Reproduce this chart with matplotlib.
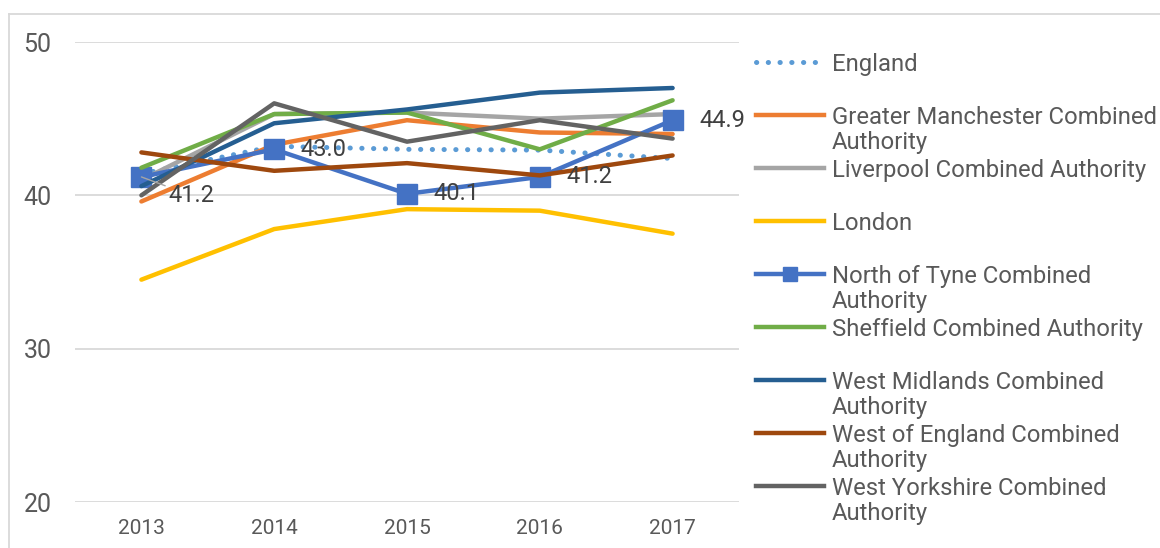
import matplotlib
matplotlib.use("Agg")
import matplotlib.pyplot as plt
from matplotlib.lines import Line2D

plt.rcParams['font.family'] = ['Roboto', 'DejaVu Sans']

years = ['2013', '2014', '2015', '2016', '2017']

england = [41.4, 43.2, 43.0, 42.95, 42.4]
greater_manchester = [39.6, 43.3, 44.9, 44.1, 44.0]
liverpool = [41.0, 45.3, 45.4, 45.0, 45.3]
london = [34.5, 37.8, 39.1, 39.0, 37.5]
north_of_tyne = [41.2, 43.0, 40.1, 41.2, 44.9]
sheffield = [41.8, 45.3, 45.4, 43.0, 46.2]
west_midlands = [40.6, 44.7, 45.6, 46.7, 47.0]
west_of_england = [42.8, 41.6, 42.1, 41.3, 42.6]
west_yorkshire = [40.0, 46.0, 43.5, 44.9, 43.7]

names = ['England',
         'Greater Manchester Combined\nAuthority',
         'Liverpool Combined Authority',
         'London',
         'North of Tyne Combined\nAuthority',
         'Sheffield Combined Authority',
         'West Midlands Combined\nAuthority',
         'West of England Combined\nAuthority',
         'West Yorkshire Combined\nAuthority']
series = [england, greater_manchester, liverpool, london, north_of_tyne,
          sheffield, west_midlands, west_of_england, west_yorkshire]
colors = ['#5b9bd5', '#ed7d31', '#a5a5a5', '#ffc000', '#4472c4',
          '#70ad47', '#255e91', '#9e480e', '#636363']

txt = '#595959'
fig = plt.figure(figsize=(11.6, 5.48), dpi=100)
ax = fig.add_axes([75 / 1160, 46 / 548, 664 / 1160, 460 / 548])

x = list(range(len(years)))
for i, (vals, c) in enumerate(zip(series, colors)):
    if i == 0:
        ax.plot(x, vals, color=c, lw=3.6, linestyle=(0, (0.05, 2.3)),
                dash_capstyle='round', zorder=3)
    elif i == 4:
        ax.plot(x, vals, color=c, lw=3.2, marker='s', markersize=14, zorder=3 + i)
    else:
        ax.plot(x, vals, color=c, lw=3.2, solid_capstyle='round', zorder=3 + i)

# data labels for North of Tyne
for i, v in enumerate(north_of_tyne):
    if i == 0:
        ax.annotate(f'{v:.1f}', xy=(i, v), xytext=(i + 0.2, v - 1.2),
                    fontsize=17, color='#404040', va='center', ha='left',
                    arrowprops=dict(arrowstyle='-', color='#a5a5a5', lw=1,
                                    shrinkA=0, shrinkB=0), zorder=20)
    else:
        ax.text(i + 0.2, v, f'{v:.1f}', fontsize=17, color='#404040',
                va='center', ha='left', zorder=20)

ax.set_xlim(-0.5, 4.5)
ax.set_ylim(20, 50)
ax.set_yticks([20, 30, 40, 50])
ax.set_xticks(x)
ax.set_xticklabels(years)
ax.grid(axis='y', color='#d9d9d9', lw=1.3)
ax.set_axisbelow(True)
for s in ax.spines.values():
    s.set_visible(False)
ax.tick_params(axis='y', length=0, labelsize=18, labelcolor=txt, pad=17)
ax.tick_params(axis='x', length=0, labelsize=15, labelcolor=txt, pad=12)

# legend drawn by hand so the handle sits on the first text line
y0 = 62
for k, (name, c) in enumerate(zip(names, colors)):
    yy = 1 - (y0 + 53 * k) / 548
    if k == 0:
        ln = Line2D([756 / 1160, 824 / 1160], [yy, yy], transform=fig.transFigure,
                    color=c, lw=3.6, linestyle=(0, (0.05, 2.3)), dash_capstyle='round')
    elif k == 4:
        ln = Line2D([756 / 1160, 790 / 1160, 824 / 1160], [yy, yy, yy],
                    transform=fig.transFigure, color=c, lw=3.2, marker='s',
                    markersize=10, markevery=[1])
    else:
        ln = Line2D([756 / 1160, 824 / 1160], [yy, yy], transform=fig.transFigure,
                    color=c, lw=3.2)
    fig.add_artist(ln)
    fig.text(832 / 1160, yy + 9 / 548, name, fontsize=17.2, color=txt,
             va='top', ha='left', linespacing=1.13)

# outer chart border (left and top)
fig.add_artist(Line2D([9 / 1160, 9 / 1160], [0, 1 - 14 / 548],
                      transform=fig.transFigure, color='#d9d9d9', lw=1.3))
fig.add_artist(Line2D([9 / 1160, 1], [1 - 14 / 548, 1 - 14 / 548],
                      transform=fig.transFigure, color='#d9d9d9', lw=1.3))

fig.savefig('out.png', dpi=100)
